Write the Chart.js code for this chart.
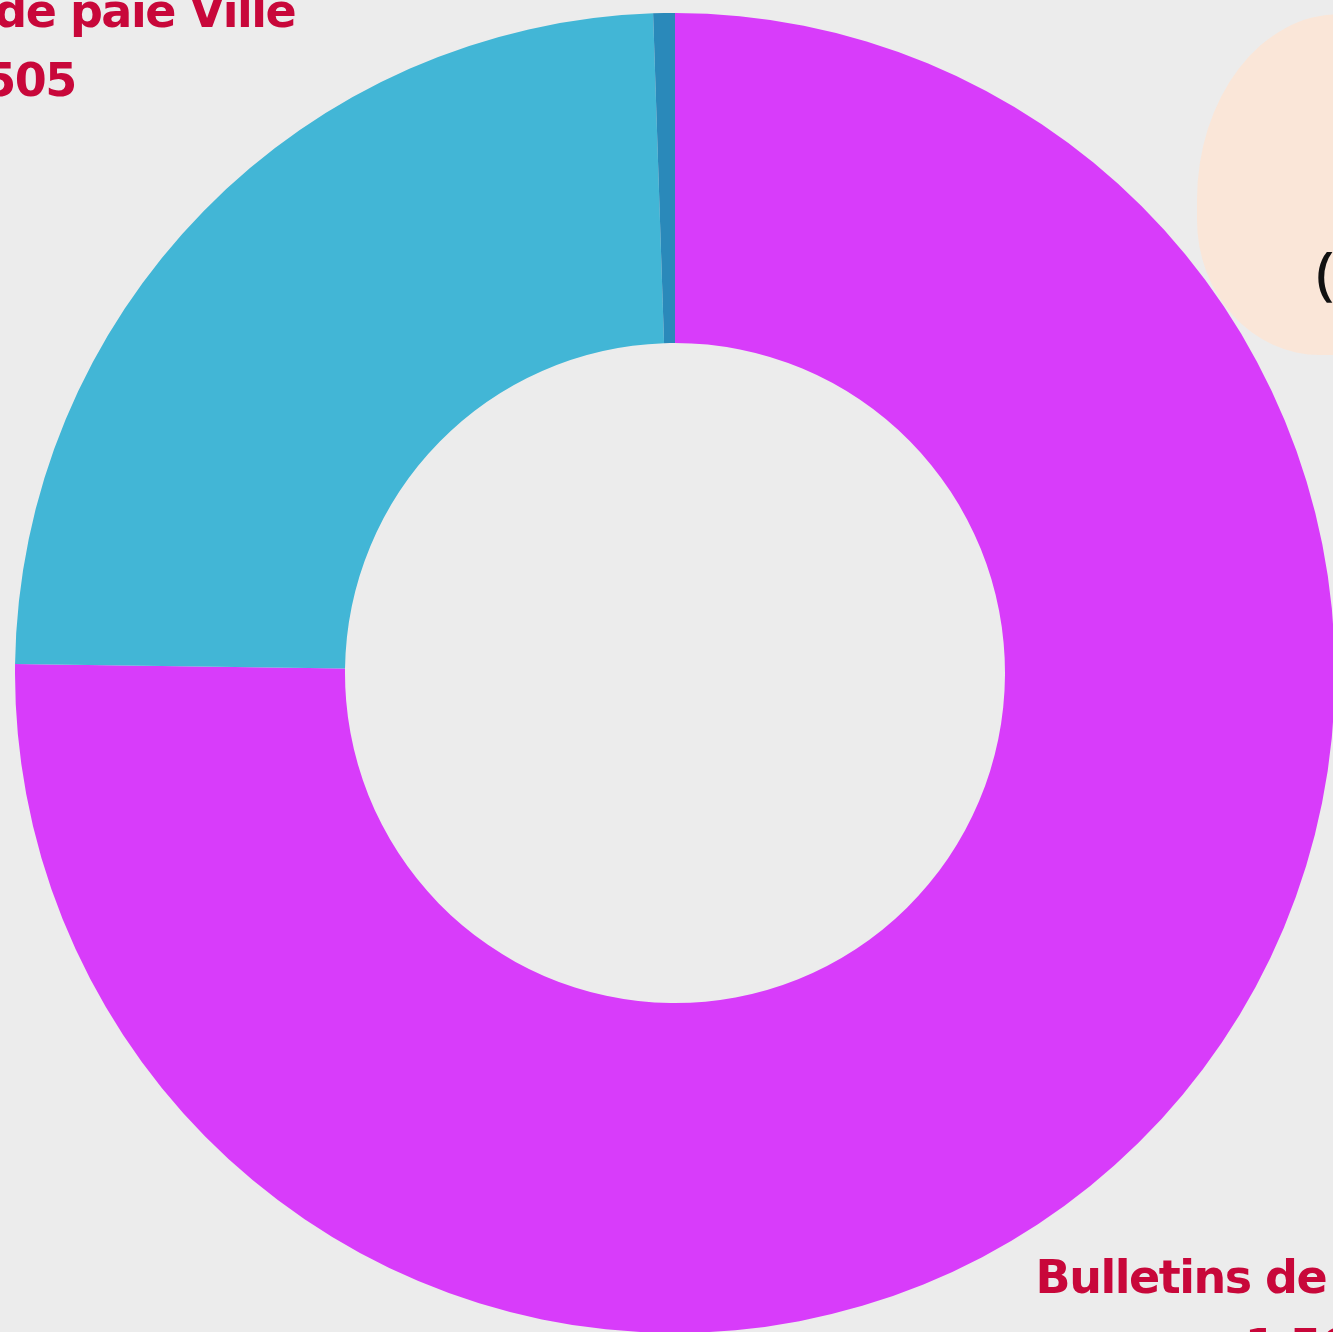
<!DOCTYPE html>
<html lang="fr">
<head>
<meta charset="utf-8">
<script src="https://cdn.jsdelivr.net/npm/chart.js@4"></script>
<style>
  html, body { margin: 0; padding: 0; }
  body {
    width: 1333px; height: 1332px; overflow: hidden; position: relative;
    background: #ececec;
    font-family: "DejaVu Sans", sans-serif;
  }
  #graphique { position: absolute; left: 15px; top: 13px; }
  .etiquette {
    position: absolute; width: 800px; text-align: center;
    color: #c8073a; font-weight: bold; font-size: 46px; line-height: 69px;
    letter-spacing: -1.5px; white-space: nowrap;
  }
  .bulle {
    position: absolute; left: 1197px; top: 14px; width: 400px; height: 341px;
    background: #fae6d8;
    border-top-left-radius: 143px 186px;
    border-bottom-left-radius: 123px 135px;
  }
  .bulle span {
    position: absolute; left: 119px; top: 218px;
    font-family: "Noto Sans", sans-serif;
    font-size: 58px; font-weight: 500; color: #111; white-space: nowrap;
  }
</style>
</head>
<body>

<canvas id="graphique" width="1320" height="1320"></canvas>
<div class="etiquette" id="lab0" style="left:-370px; top:-23px;"></div>
<div class="etiquette" id="lab1" style="left:913px; top:1243px;"></div>
<div class="bulle"><span>(en nombre)</span></div>

<script>
// categories et valeurs
var categories = ["Bulletins de paie CCAS", "Bulletins de paie Ville", "Autres bulletins"];
var valeurs = [1566, 505, 11];
var couleurs = ["#d83cfa", "#42b6d6", "#2a89ba"];

// étiquettes posées en texte (seules deux sont visibles dans le cadrage)
var etiquettes = [
  { id: "lab1", index: 0 },
  { id: "lab0", index: 1 }
];

function formatNombre(n) {
  return String(n).replace(/\B(?=(\d{3})+(?!\d))/g, " ");
}

document.addEventListener("DOMContentLoaded", function() {
  etiquettes.forEach(function(e) {
    var el = document.getElementById(e.id);
    el.innerHTML = categories[e.index] + "<br>" + formatNombre(valeurs[e.index]);
  });

  var cfg = {
    type: "doughnut",
    data: {
      labels: categories,
      datasets: [{
        data: valeurs,
        backgroundColor: couleurs,
        borderWidth: 0,
        hoverOffset: 0
      }]
    },
    options: {
      responsive: false,
      animation: false,
      cutout: "50%",
      layout: { padding: 0 },
      plugins: {
        legend: { display: false },
        tooltip: { enabled: false }
      }
    }
  };

  new Chart(document.getElementById("graphique"), cfg);
});
</script>
</body>
</html>
